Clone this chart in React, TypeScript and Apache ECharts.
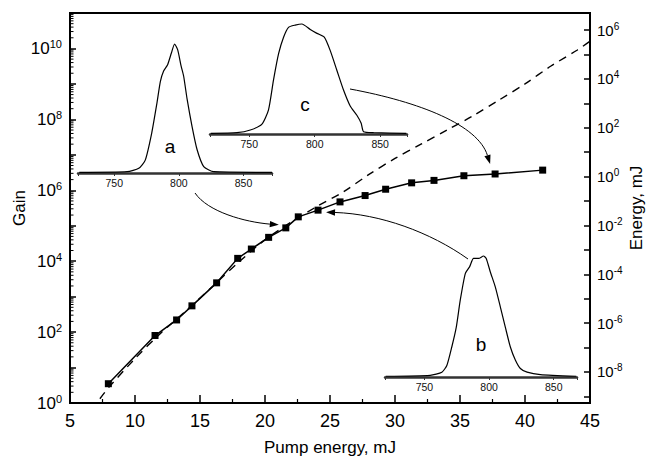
import { useEffect, useRef } from 'react';
import * as echarts from 'echarts';

// ---- main data ----
const pumpEnergy = [7.95, 11.54, 13.2, 14.38, 16.28, 17.9, 18.95, 20.28, 21.6, 22.56, 24.08, 25.77, 27.7, 29.28, 31.28, 33.0, 35.3, 37.7, 41.36];
const gain = [3.5, 80, 220, 550, 2450, 12000, 22000, 47000, 87000, 178000, 275000, 470000, 710000, 1.07e6, 1.62e6, 1.9e6, 2.57e6, 2.88e6, 3.7e6];

const modelEnergy = [7.3, 8, 10, 12, 14, 16, 18, 20, 22, 24, 26, 28, 30, 32, 34, 36, 38, 40, 42, 44, 45];
const modelGain = [1.32, 2.8, 17.8, 95, 420, 2000, 9550, 4e4, 1.26e5, 3.5e5, 8.9e5, 2.8e6, 7.9e6, 2e7, 5e7, 1.26e8, 3.5e8, 1e9, 3.2e9, 8.9e9, 1.6e10];

// ---- inset spectra ----
const specAWl = [723, 760, 769, 774, 779, 783, 785.7, 788.2, 791.3, 794.2, 796.7, 799.1, 801.7, 803.7, 806.4, 810.2, 814.1, 819.2, 827, 872];
const specAI = [0.005, 0.01, 0.036, 0.1, 0.31, 0.54, 0.71, 0.79, 0.84, 0.93, 1.0, 0.955, 0.83, 0.75, 0.57, 0.36, 0.18, 0.05, 0.01, 0.005];

const specBWl = [720, 754.4, 763.5, 767.4, 771.2, 774.6, 777.7, 781.6, 784.9, 788, 791.9, 795.7, 797.8, 800.9, 804.8, 808.7, 812.6, 816.4, 820.3, 824.2, 829.4, 839.7, 867.5];
const specBI = [0.006, 0.014, 0.04, 0.097, 0.25, 0.41, 0.635, 0.855, 0.91, 0.98, 0.98, 1.0, 0.98, 0.87, 0.745, 0.58, 0.41, 0.25, 0.14, 0.07, 0.04, 0.02, 0.006];

const specCWl = [720.5, 740.6, 750.8, 759.7, 764.7, 768.5, 772.4, 776.2, 780, 785.1, 790.2, 796.6, 801.7, 807.3, 811.8, 816.9, 822, 827.1, 832.2, 835.5, 837.3, 845, 870];
const specCI = [0.006, 0.012, 0.036, 0.09, 0.22, 0.49, 0.73, 0.88, 0.97, 0.99, 1.0, 0.95, 0.915, 0.88, 0.76, 0.58, 0.4, 0.255, 0.17, 0.097, 0.02, 0.012, 0.006];

const insetLabels = ['a', 'b', 'c'];

const FONT = 'Arial, "Liberation Sans", Helvetica, sans-serif';

const powLabel = (v: number) => {
  const n = Math.round(v);
  if (Math.abs(v - n) > 1e-6 || n % 2 !== 0) return '';
  return `{b|10}{s|${n}}`;
};

const insetX = (gi: number, min: number, max: number) => ({
  type: 'value',
  gridIndex: gi,
  min,
  max,
  splitNumber: 3,
  axisLine: { onZero: false, lineStyle: { color: '#333', width: 2.5 } },
  axisTick: { show: true, length: 3, lineStyle: { color: '#333', width: 1 } },
  axisLabel: {
    margin: 4,
    fontSize: 10.5,
    fontFamily: FONT,
    color: '#111',
    formatter: (v: number) => (Math.abs(v % 50) < 1e-6 ? String(v) : ''),
  },
  splitLine: { show: false },
});

const insetY = (gi: number) => ({
  type: 'value',
  gridIndex: gi,
  min: 0,
  max: 1,
  show: false,
});

export default function App() {
  const ref = useRef<HTMLDivElement>(null);
  useEffect(() => {
    if (!ref.current) return;
    const chart = echarts.init(ref.current, null, { renderer: 'svg' });

    const minorTicks: number[][] = [];
    for (let n = 0; n < 11; n++) {
      for (let k = 2; k <= 9; k++) minorTicks.push([5, n + Math.log10(k)]);
    }

    const option: any = {
      animation: false,
      backgroundColor: '#fff',
      grid: [
        { left: 70, top: 13, width: 520, height: 390, show: true, borderColor: '#000', borderWidth: 2, containLabel: false, outerBoundsMode: 'none' },
        { left: 78, top: 44, width: 194, height: 129, containLabel: false, outerBoundsMode: 'none' },
        { left: 385, top: 256, width: 192, height: 121, containLabel: false, outerBoundsMode: 'none' },
        { left: 210, top: 24, width: 197, height: 110, containLabel: false, outerBoundsMode: 'none' },
      ],
      xAxis: [
        {
          type: 'value',
          gridIndex: 0,
          min: 5,
          max: 45,
          interval: 5,
          name: 'Pump energy, mJ',
          nameLocation: 'middle',
          nameGap: 36,
          nameMoveOverlap: false,
          nameTextStyle: { fontSize: 17, fontFamily: FONT, color: '#000' },
          axisLine: { onZero: false, lineStyle: { color: '#000', width: 2 } },
          axisTick: { inside: true, length: 8, lineStyle: { color: '#000', width: 1.5 } },
          minorTick: { show: true, splitNumber: 2, length: 4, lineStyle: { color: '#000', width: 1.2 } },
          axisLabel: { margin: 9, fontSize: 18, fontFamily: FONT, color: '#000' },
          splitLine: { show: false },
          minorSplitLine: { show: false },
        },
        insetX(1, 722, 872),
        insetX(2, 719.5, 868),
        insetX(3, 720, 870.5),
      ],
      yAxis: [
        {
          type: 'value',
          gridIndex: 0,
          min: 0,
          max: 11,
          interval: 1,
          position: 'left',
          name: 'Gain',
          nameLocation: 'middle',
          nameRotate: 90,
          nameGap: 42,
          nameMoveOverlap: false,
          nameTextStyle: { fontSize: 17, fontFamily: FONT, color: '#000' },
          axisLine: { onZero: false, lineStyle: { color: '#000', width: 2 } },
          axisTick: { inside: true, length: 6, lineStyle: { color: '#000', width: 1.5 } },
          axisLabel: {
            margin: 8,
            formatter: powLabel,
            rich: {
              b: { fontSize: 17, fontFamily: FONT, color: '#000', lineHeight: 20 },
              s: { fontSize: 11, fontFamily: FONT, color: '#000', lineHeight: 11, verticalAlign: 'top' },
            },
          },
          splitLine: { show: false },
        },
        {
          type: 'value',
          gridIndex: 0,
          min: -9.27,
          max: 6.7,
          splitNumber: 16,
          minInterval: 1,
          maxInterval: 1,
          position: 'right',
          name: 'Energy, mJ',
          nameLocation: 'middle',
          nameRotate: 90,
          nameGap: 38,
          nameMoveOverlap: false,
          nameTextStyle: { fontSize: 17, fontFamily: FONT, color: '#000' },
          axisLine: { onZero: false, lineStyle: { color: '#000', width: 1.5 } },
          axisTick: { inside: true, length: 6, lineStyle: { color: '#000', width: 1.5 } },
          axisLabel: {
            margin: 7,
            formatter: powLabel,
            rich: {
              b: { fontSize: 15, fontFamily: FONT, color: '#000', lineHeight: 18 },
              s: { fontSize: 10, fontFamily: FONT, color: '#000', lineHeight: 10, verticalAlign: 'top' },
            },
          },
          splitLine: { show: false },
        },
        insetY(1),
        insetY(2),
        insetY(3),
      ],
      series: [
        {
          type: 'line',
          xAxisIndex: 0,
          yAxisIndex: 0,
          data: modelEnergy.map((x, i) => [x, Math.log10(modelGain[i])]),
          smooth: 0.3,
          showSymbol: false,
          symbol: 'none',
          lineStyle: { color: '#000', width: 1.4, type: [8, 6] },
          z: 2,
          silent: true,
        },
        {
          type: 'line',
          xAxisIndex: 0,
          yAxisIndex: 0,
          data: pumpEnergy.map((x, i) => [x, Math.log10(gain[i])]),
          symbol: 'rect',
          symbolSize: 7,
          itemStyle: { color: '#000' },
          lineStyle: { color: '#000', width: 1.5 },
          z: 3,
          silent: true,
        },
        {
          type: 'custom',
          xAxisIndex: 0,
          yAxisIndex: 0,
          data: minorTicks,
          clip: false,
          silent: true,
          renderItem: (_p: any, api: any) => {
            const pt = api.coord([api.value(0), api.value(1)]);
            return {
              type: 'line',
              shape: { x1: pt[0], y1: pt[1], x2: pt[0] + 3.5, y2: pt[1] },
              style: { stroke: '#000', lineWidth: 1 },
            };
          },
        },
        {
          type: 'line',
          xAxisIndex: 1,
          yAxisIndex: 2,
          data: specAWl.map((x, i) => [x, specAI[i]]),
          showSymbol: false,
          symbol: 'none',
          smooth: 0.2,
          clip: false,
          lineStyle: { color: '#000', width: 1.2 },
          silent: true,
        },
        {
          type: 'line',
          xAxisIndex: 2,
          yAxisIndex: 3,
          data: specBWl.map((x, i) => [x, specBI[i]]),
          showSymbol: false,
          symbol: 'none',
          smooth: 0.2,
          clip: false,
          lineStyle: { color: '#000', width: 1.2 },
          silent: true,
        },
        {
          type: 'line',
          xAxisIndex: 3,
          yAxisIndex: 4,
          data: specCWl.map((x, i) => [x, specCI[i]]),
          showSymbol: false,
          symbol: 'none',
          smooth: 0.2,
          clip: false,
          lineStyle: { color: '#000', width: 1.2 },
          silent: true,
        },
      ],
    };
    chart.setOption(option);

    // annotations: arrows from insets to data points, inset letters
    const px = (i: number) =>
      chart.convertToPixel({ xAxisIndex: 0, yAxisIndex: 0 } as any, [pumpEnergy[i], Math.log10(gain[i])]) as number[];

    const arrow = (s: number[], c1: number[], c2: number[], e: number[]) => {
      const ang = Math.atan2(e[1] - c2[1], e[0] - c2[0]);
      const L = 9;
      const W = 3.2;
      const bx = e[0] - L * Math.cos(ang);
      const by = e[1] - L * Math.sin(ang);
      const ox = -Math.sin(ang) * W;
      const oy = Math.cos(ang) * W;
      return [
        {
          type: 'bezierCurve',
          silent: true,
          shape: { x1: s[0], y1: s[1], cpx1: c1[0], cpy1: c1[1], cpx2: c2[0], cpy2: c2[1], x2: bx, y2: by },
          style: { stroke: '#000', lineWidth: 1, fill: null },
        },
        {
          type: 'polygon',
          silent: true,
          shape: { points: [[e[0], e[1]], [bx + ox, by + oy], [bx - ox, by - oy]] },
          style: { fill: '#000' },
        },
      ];
    };

    const pA = px(8);
    const pB = px(10);
    const pC = px(17);
    const tipA = [pA[0] - 7, pA[1] - 3];
    const tipB = [pB[0] + 8, pB[1] + 2];
    const tipC = [pC[0] - 5, pC[1] - 10];

    const letterStyle = { fontSize: 19, fontFamily: FONT, fill: '#000', align: 'center', verticalAlign: 'middle' };

    chart.setOption({
      graphic: [
        ...arrow([195, 193], [208, 212], [245, 222], tipA),
        ...arrow([468, 259], [430, 232], [380, 214], tipB),
        ...arrow([350, 89], [420, 102], [478, 125], tipC),
        { type: 'text', silent: true, x: 170, y: 146, style: { ...letterStyle, text: insetLabels[0] } },
        { type: 'text', silent: true, x: 481, y: 344, style: { ...letterStyle, text: insetLabels[1] } },
        { type: 'text', silent: true, x: 305, y: 104, style: { ...letterStyle, text: insetLabels[2] } },
      ],
    });

    return () => chart.dispose();
  }, []);

  return (
    <div
      ref={ref}
      style={{ position: 'fixed', left: 0, top: 0, width: 652, height: 464, background: '#fff' }}
    />
  );
}
